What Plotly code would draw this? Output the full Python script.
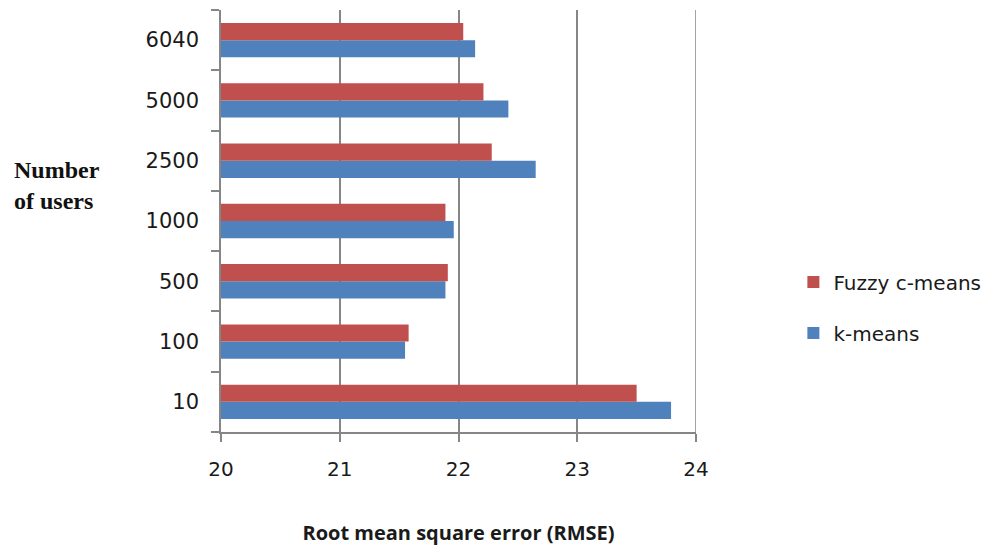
import plotly.graph_objects as go

# Number of users per experiment (bottom to top)
users = ["10", "100", "500", "1000", "2500", "5000", "6040"]
kmeans_rmse = [23.79, 21.55, 21.89, 21.96, 22.65, 22.42, 22.14]
fcm_rmse = [23.50, 21.58, 21.91, 21.89, 22.28, 22.21, 22.04]
x_ticks = [20, 21, 22, 23, 24]

BLUE = "#4F81BD"
RED = "#C0504D"
GRID = "#868686"

fig = go.Figure()
fig.add_trace(go.Bar(
    y=users, x=[v - 20 for v in kmeans_rmse], base=20, orientation="h",
    name="k-means", legendgroup="km", legendrank=2,
    marker=dict(color=BLUE, line=dict(width=0)),
))
fig.add_trace(go.Bar(
    y=users, x=[v - 20 for v in fcm_rmse], base=20, orientation="h",
    name="Fuzzy c-means", legendgroup="fcm", legendrank=1,
    marker=dict(color=RED, line=dict(width=0)),
))

# right-hand gridline at the end of the value range
fig.add_shape(type="line", xref="x", yref="paper", x0=24, x1=24, y0=0, y1=1,
              line=dict(color=GRID, width=1.5), layer="below")

fig.update_layout(
    width=1001, height=551,
    margin=dict(l=221, r=305, t=10, b=119),
    paper_bgcolor="white", plot_bgcolor="white",
    barmode="group", bargap=0.43, bargroupgap=0,
    font=dict(family="DejaVu Sans", color="#1a1a1a"),
    showlegend=True,
    legend=dict(
        x=1.205, y=0.295, xanchor="left", yanchor="middle",
        traceorder="grouped", tracegroupgap=22,
        font=dict(size=20, family="DejaVu Sans", color="#1a1a1a"),
        itemsizing="constant",
        bgcolor="rgba(0,0,0,0)",
    ),
    xaxis=dict(
        range=[20, 24], tickvals=x_ticks, ticktext=[str(t) for t in x_ticks],
        showgrid=True, gridcolor=GRID, gridwidth=1.5,
        showline=True, linecolor=GRID, linewidth=1.5,
        ticks="outside", ticklen=8, tickcolor=GRID, tickwidth=1.5,
        tickfont=dict(size=20), ticklabelstandoff=10,
        zeroline=False,
        title=dict(text="<b>Root mean square error (RMSE)</b>",
                   font=dict(size=20, family="Open Sans", color="#1a1a1a"),
                   standoff=46),
    ),
    yaxis=dict(
        categoryorder="array", categoryarray=users,
        showline=True, linecolor=GRID, linewidth=1.5,
        ticks="outside", ticklen=8, tickcolor=GRID, tickwidth=1.5,
        tickson="boundaries", showgrid=False,
        tickfont=dict(size=21), ticklabelstandoff=16,
    ),
    annotations=[dict(
        text="<b>Number<br>of users</b>", xref="paper", yref="paper",
        x=-0.44, y=0.585, xanchor="left", yanchor="middle", align="left",
        showarrow=False,
        font=dict(size=24, family="Liberation Serif", color="#111111"),
    )],
)

fig.write_html("out.html")
